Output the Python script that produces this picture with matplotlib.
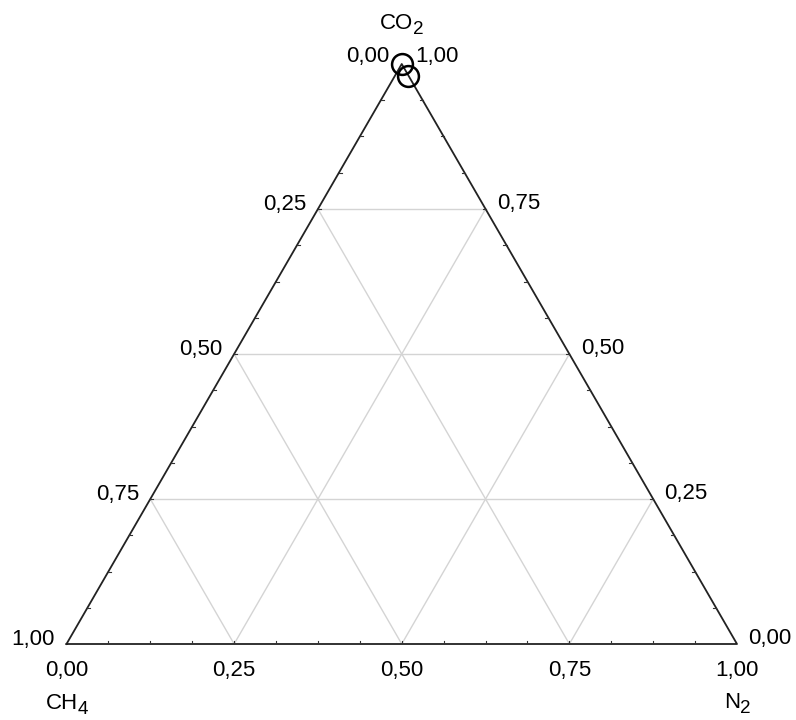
import numpy as np
import matplotlib
matplotlib.use('Agg')
import matplotlib.pyplot as plt
from matplotlib.transforms import ScaledTranslation

plt.rcParams['font.family'] = ['Liberation Sans', 'DejaVu Sans']

# Composicao das amostras (fracoes)
co2 = [1.00, 0.98]
n2 = [0.00, 0.02]
ch4 = [0.00, 0.00]

grade = [0.25, 0.50, 0.75]
rotulos = ['0,00', '0,25', '0,50', '0,75', '1,00']
H = np.sqrt(3) / 2


def tern(n, c):
    # n = fracao de N2, c = fracao de CO2
    return n + c / 2, c * H


fig = plt.figure(figsize=(7.96, 7.2), dpi=100)
W, Hp = 796, 720
x0, x1, yb, yt = 66.5, 737.0, 644.0, 64.0
ax = fig.add_axes([x0 / W, 1 - yb / Hp, (x1 - x0) / W, (yb - yt) / Hp])
ax.set_xlim(0, 1)
ax.set_ylim(0, H)
ax.axis('off')

cinza = '#d4d4d4'
for g in grade:
    # linhas de CO2 constante
    a = tern(0, g); b = tern(1 - g, g)
    ax.plot([a[0], b[0]], [a[1], b[1]], color=cinza, lw=1, zorder=1)
    # linhas de N2 constante
    a = tern(g, 0); b = tern(g, 1 - g)
    ax.plot([a[0], b[0]], [a[1], b[1]], color=cinza, lw=1, zorder=1)
    # linhas de CH4 constante
    a = tern(1 - g, 0); b = tern(0, 1 - g)
    ax.plot([a[0], b[0]], [a[1], b[1]], color=cinza, lw=1, zorder=1)

# contorno
px = [0, 1, 0.5, 0]
py = [0, 0, H, 0]
ax.plot(px, py, color='#222222', lw=1.3, zorder=3, clip_on=False)

# marcas pequenas
t = 0.0045
for k in range(1, 16):
    f = k / 16
    ax.plot([f, f], [0, t], color='#333333', lw=0.8, zorder=3)
    xl, yl = tern(0, f)
    ax.plot([xl, xl + t], [yl, yl], color='#333333', lw=0.8, zorder=3)
    xr, yr = tern(1 - f, f)
    ax.plot([xr, xr - t], [yr, yr], color='#333333', lw=0.8, zorder=3)

fs = 16
dx = 0.017
for i, r in enumerate(rotulos):
    f = i / 4
    # base: N2
    ax.text(f, -0.040, r, ha='center', va='center', fontsize=fs)
    # esquerda: CH4 (0 no topo)
    xl, yl = tern(0, 1 - f)
    if i == 0:
        ax.text(xl - 0.018, yl + 0.011, r, ha='right', va='center', fontsize=fs)
    else:
        ax.text(xl - dx, yl + 0.006, r, ha='right', va='center', fontsize=fs)
    # direita: CO2 (0 embaixo)
    xr, yr = tern(1 - f, f)
    if i == 4:
        ax.text(xr + 0.020, yr + 0.011, r, ha='left', va='center', fontsize=fs)
    else:
        ax.text(xr + dx, yr + 0.008, r, ha='left', va='center', fontsize=fs)

fig.canvas.draw()
rend = fig.canvas.get_renderer()


def titulo(x, y, base, sub):
    # texto com subscrito grande, como no original
    tx = ax.text(x, y, base, ha='center', va='center', fontsize=fs)
    w = tx.get_window_extent(rend).width
    sw = 10
    tx.set_transform(ax.transData + ScaledTranslation(-sw / 2 / 100, 0, fig.dpi_scale_trans))
    ax.text(x, y, sub, ha='left', va='center', fontsize=fs * 0.85,
            transform=ax.transData + ScaledTranslation((w / 2 - sw / 2) / 100, -6 / 100, fig.dpi_scale_trans))


titulo(0.5, H + 0.060, 'CO', '2')
titulo(0.0, -0.089, 'CH', '4')
titulo(1.0, -0.088, 'N', '2')

xs, ys = tern(np.array(n2), np.array(co2))
ax.plot(xs, ys, 'o', ms=15, mfc='none', mec='black', mew=1.8, zorder=5, clip_on=False)

fig.savefig('out.png', dpi=100, facecolor='white')
